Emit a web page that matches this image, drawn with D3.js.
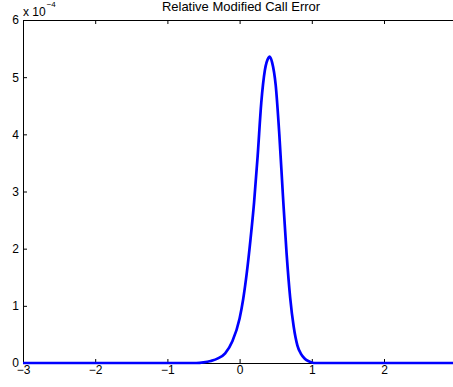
<!DOCTYPE html>
<html>
<head>
<meta charset="utf-8">
<script src="https://cdn.jsdelivr.net/npm/d3@7"></script>
<style>
  html, body { margin: 0; padding: 0; background: #fff; }
  svg { display: block; font-family: "Liberation Sans", Arial, Helvetica, sans-serif; }
</style>
</head>
<body>
<div id="chart"></div>
<script>
// Relative Modified Call Error (values in units of 1e-4)

// data
const xValues = [-3, -2, -1, -0.6, -0.5, -0.4, -0.3, -0.2, -0.1, 0, 0.05, 0.1, 0.15, 0.2, 0.25, 0.3, 0.35, 0.4, 0.416,
  0.45, 0.5, 0.55, 0.6, 0.65, 0.7, 0.75, 0.8, 0.85, 0.9, 0.95, 1.0, 1.05, 2, 3];
const yValues = [0, 0, 0, 0, 0.01, 0.035, 0.08, 0.17, 0.38, 0.78, 1.12, 1.58, 2.15, 2.8, 3.62, 4.55, 5.12, 5.34, 5.36,
  5.26, 4.86, 4.0, 2.93, 1.93, 1.15, 0.63, 0.31, 0.16, 0.08, 0.035, 0.01, 0, 0, 0];
const xTicks = [-3, -2, -1, 0, 1, 2, 3];
const xLabels = [-3, -2, -1, 0, 1, 2];
const yTicks = [0, 1, 2, 3, 4, 5, 6];
const title = "Relative Modified Call Error";

// layout
const WIDTH = 453, HEIGHT = 387;
const plotLeft = 23, plotTop = 20, plotBottom = 363;
const unitX = 72.2;

const svg = d3.select("#chart").append("svg")
  .attr("width", WIDTH)
  .attr("height", HEIGHT);

svg.append("rect").attr("width", WIDTH).attr("height", HEIGHT).attr("fill", "#fff");

// scales
const x = d3.scaleLinear().domain([-3, 3]).range([plotLeft, plotLeft + 6 * unitX]);
const y = d3.scaleLinear().domain([0, 6]).range([plotBottom, plotTop]);

const fmt = d => d < 0 ? "\u2212" + Math.abs(d) : String(d);

// axes (ticks pointing inside, matlab style)
const gx = svg.append("g").attr("transform", `translate(0,${plotBottom})`)
  .call(d3.axisBottom(x).tickValues(xTicks).tickSizeInner(-4).tickSizeOuter(0).tickPadding(2)
    .tickFormat(d => xLabels.includes(d) ? fmt(d) : ""));
const gt = svg.append("g").attr("transform", `translate(0,${plotTop})`)
  .call(d3.axisTop(x).tickValues(xTicks).tickSizeInner(-4).tickSizeOuter(0).tickFormat(""));
const gy = svg.append("g").attr("transform", `translate(${plotLeft},0)`)
  .call(d3.axisLeft(y).tickValues(yTicks).tickSizeInner(-4).tickSizeOuter(0).tickPadding(4).tickFormat(fmt));

[gx, gt, gy].forEach(a => {
  a.select(".domain").attr("stroke", "#000").attr("stroke-width", 1);
  a.selectAll(".tick line").attr("stroke", "#000");
  a.selectAll(".tick text").attr("fill", "#000").style("font-size", "12px");
});

// curve
const line = d3.line()
  .x((d, i) => x(xValues[i]))
  .y(d => y(d))
  .curve(d3.curveMonotoneX);

svg.append("path")
  .datum(yValues)
  .attr("d", line)
  .attr("fill", "none")
  .attr("stroke", "#0000ff")
  .attr("stroke-width", 2.7)
  .attr("stroke-linejoin", "round");

// title
svg.append("text")
  .attr("x", 241)
  .attr("y", 11)
  .attr("text-anchor", "middle")
  .style("font-size", "13px")
  .text(title);

// exponent label
const expo = svg.append("text")
  .attr("x", plotLeft)
  .attr("y", 16)
  .style("font-size", "12px");
expo.append("tspan").text("x 10");
expo.append("tspan").attr("dx", 1).attr("dy", -9).style("font-size", "8px").text("\u22124");
</script>
</body>
</html>
